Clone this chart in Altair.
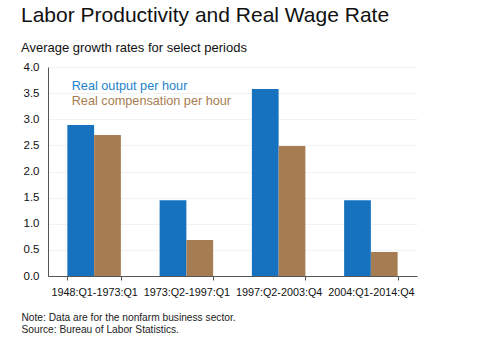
import altair as alt
import pandas as pd

periods = ["1948:Q1-1973:Q1", "1973:Q2-1997:Q1", "1997:Q2-2003:Q4", "2004:Q1-2014:Q4"]
output_per_hour = [2.89, 1.45, 3.58, 1.45]
compensation_per_hour = [2.70, 0.69, 2.49, 0.46]
series_names = ["Real output per hour", "Real compensation per hour"]
series_colors = ["#1672bf", "#a67c52"]

rows = []
for p, a, b in zip(periods, output_per_hour, compensation_per_hour):
    rows.append({"period": p, "series": series_names[0], "value": a})
    rows.append({"period": p, "series": series_names[1], "value": b})
df = pd.DataFrame(rows)

FONT = "Liberation Sans"

chart = alt.Chart(df).mark_bar().encode(
    x=alt.X("period:N", sort=periods,
            scale=alt.Scale(paddingInner=0.42, paddingOuter=0.21),
            axis=alt.Axis(title=["Note: Data are for the nonfarm business sector.",
                                 "Source: Bureau of Labor Statistics."],
                          titleAnchor="start", titleAlign="left", titleX=-27, titleY=44,
                          titleBaseline="alphabetic", titleFontSize=10.2, titleFontWeight="normal",
                          titleColor="#222222", titleLineHeight=12.5,
                          labelAngle=0, labelFontSize=10.8, labelColor="#111111", labelPadding=6,
                          labelOverlap=False,
                          tickBand="extent", tickSize=4, tickColor="#555555",
                          domainColor="#555555", grid=False)),
    xOffset=alt.XOffset("series:N", sort=series_names),
    y=alt.Y("value:Q", scale=alt.Scale(domain=[0, 4]),
            axis=alt.Axis(title=None, values=[0, 0.5, 1, 1.5, 2, 2.5, 3, 3.5, 4],
                          format=".1f", labelFontSize=11.5, labelColor="#111111",
                          labelPadding=9, tickSize=0, domainColor="#555555",
                          gridColor="#f2f2f2")),
    color=alt.Color("series:N", sort=series_names,
                    scale=alt.Scale(domain=series_names, range=series_colors),
                    legend=alt.Legend(title=None, orient="none", legendX=11, legendY=13,
                                      symbolSize=0, symbolOpacity=0, symbolStrokeWidth=0,
                                      labelFontSize=12.7, labelOffset=0, rowPadding=1,
                                      labelLimit=400,
                                      labelColor=alt.ExprRef(
                                          "datum.value == 'Real output per hour' ? '#2482cc' : '#a67c52'"))),
).properties(
    width=369, height=209,
    autosize=alt.AutoSizeParams(type="none"),
    padding={"left": 48, "top": 67, "right": 71, "bottom": 65},
    title=alt.TitleParams(
        text="Labor Productivity and Real Wage Rate",
        subtitle="Average growth rates for select periods",
        anchor="start", dx=0, fontSize=21, fontWeight="normal", color="#111111",
        subtitleFontSize=13, subtitleColor="#111111", subtitlePadding=16, offset=6,
        font=FONT, subtitleFont=FONT),
).configure(font=FONT).configure_view(stroke=None)

chart.save("out.html", embed_options={"renderer": "svg", "actions": False})
